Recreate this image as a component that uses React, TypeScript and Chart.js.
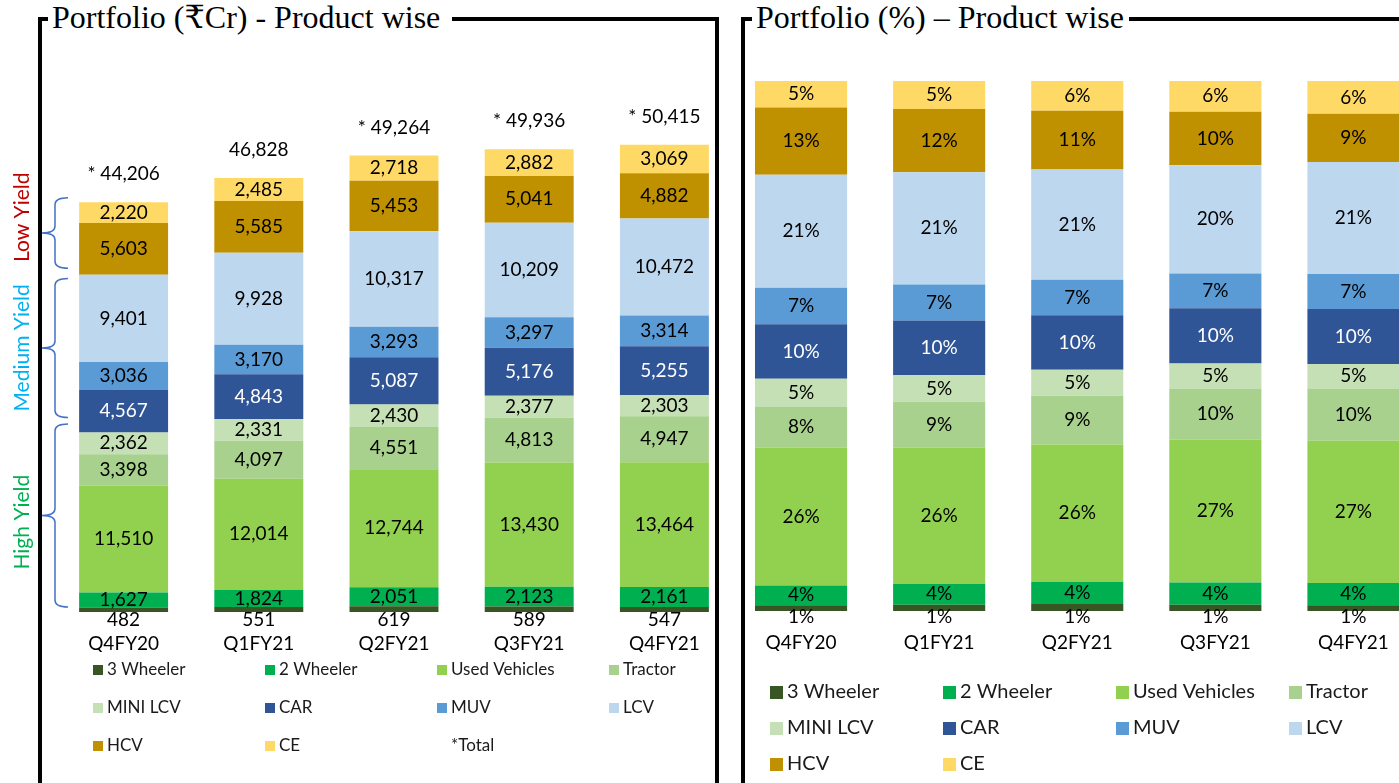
import React, { useEffect, useRef } from "react";
import { Chart, registerables } from "chart.js";

Chart.register(...registerables);

const FONT = "Lato, 'Noto Sans', sans-serif";

// ---------- data ----------
const categories = ["Q4FY20", "Q1FY21", "Q2FY21", "Q3FY21", "Q4FY21"];
const seriesNames = ["3 Wheeler", "2 Wheeler", "Used Vehicles", "Tractor", "MINI LCV", "CAR", "MUV", "LCV", "HCV", "CE"];
const seriesColors = ["#375623", "#00B050", "#92D050", "#A9D18E", "#C5E0B4", "#2F5597", "#5B9BD5", "#BDD7EE", "#BF9000", "#FFD966"];
const labelColors = ["#000", "#000", "#000", "#000", "#000", "#fff", "#000", "#000", "#000", "#000"];

// Portfolio (₹Cr)
const threeWheelerCr = [482, 551, 619, 589, 547];
const twoWheelerCr = [1627, 1824, 2051, 2123, 2161];
const usedVehiclesCr = [11510, 12014, 12744, 13430, 13464];
const tractorCr = [3398, 4097, 4551, 4813, 4947];
const miniLcvCr = [2362, 2331, 2430, 2377, 2303];
const carCr = [4567, 4843, 5087, 5176, 5255];
const muvCr = [3036, 3170, 3293, 3297, 3314];
const lcvCr = [9401, 9928, 10317, 10209, 10472];
const hcvCr = [5603, 5585, 5453, 5041, 4882];
const ceCr = [2220, 2485, 2718, 2882, 3069];
const totalCr = [44206, 46828, 49264, 49936, 50415];
const totalMarks = ["*", "", "*", "*", "*"];

// Portfolio (%)
const threeWheelerPct = [1.1, 1.2, 1.3, 1.2, 1.1];
const twoWheelerPct = [3.7, 3.9, 4.2, 4.2, 4.2];
const usedVehiclesPct = [26.0, 25.7, 25.9, 26.9, 26.8];
const tractorPct = [7.7, 8.7, 9.2, 9.6, 9.9];
const miniLcvPct = [5.3, 5.0, 4.9, 4.8, 4.6];
const carPct = [10.3, 10.3, 10.3, 10.4, 10.4];
const muvPct = [6.9, 6.8, 6.7, 6.6, 6.6];
const lcvPct = [21.3, 21.2, 20.8, 20.4, 21.1];
const hcvPct = [12.7, 11.9, 11.1, 10.1, 9.1];
const cePct = [5.0, 5.3, 5.6, 5.8, 6.2];

// Yield groupings (in ₹Cr on the left axis)
const yieldNames = ["Low Yield", "Medium Yield", "High Yield"];
const yieldFrom = [37100, 21000, 540];
const yieldTo = [44700, 36000, 20300];
const yieldLabelAt = [42600, 28500, 9700];
const yieldColors = ["#C00000", "#00B0F0", "#00B050"];

const crSeries = [threeWheelerCr, twoWheelerCr, usedVehiclesCr, tractorCr, miniLcvCr, carCr, muvCr, lcvCr, hcvCr, ceCr];
const pctSeries = [threeWheelerPct, twoWheelerPct, usedVehiclesPct, tractorPct, miniLcvPct, carPct, muvPct, lcvPct, hcvPct, cePct];

const nf = new Intl.NumberFormat("en-US");

// ---------- plugins ----------
function makeSegmentLabels(o: {
  font: string;
  format: (v: number) => string;
  belowOffset: number;
  totalOffset?: number;
  totalText?: (i: number, v: number) => string;
}) {
  return {
    id: "segmentLabels",
    afterDatasetsDraw(chart: any) {
      const ctx = chart.ctx;
      ctx.save();
      ctx.font = o.font;
      ctx.textAlign = "center";
      ctx.textBaseline = "middle";
      chart.data.datasets.forEach((ds: any, di: number) => {
        const meta = chart.getDatasetMeta(di);
        meta.data.forEach((el: any, i: number) => {
          const v = ds.data[i];
          if (meta.type === "bar") {
            const p = el.getProps(["x", "y", "base"], true);
            const ty = di === 0 ? p.base + o.belowOffset : (p.y + p.base) / 2;
            ctx.fillStyle = ds.labelColor || "#000";
            ctx.fillText(o.format(v), p.x, ty);
          } else if (o.totalText) {
            ctx.fillStyle = "#000";
            ctx.fillText(o.totalText(i, v), el.x, el.y - (o.totalOffset || 28));
          }
        });
      });
      ctx.restore();
    },
  };
}

function makeGridLegend(o: { x0: number; colW: number; y0: number; rowH: number; box: number; gap: number; cols: number; font: string }) {
  return {
    id: "gridLegend",
    afterDraw(chart: any) {
      const ctx = chart.ctx;
      ctx.save();
      ctx.font = o.font;
      ctx.textBaseline = "middle";
      ctx.textAlign = "left";
      chart.data.datasets.forEach((ds: any, i: number) => {
        const col = i % o.cols;
        const row = Math.floor(i / o.cols);
        const x = o.x0 + col * o.colW;
        const y = o.y0 + row * o.rowH;
        if (ds.type !== "line") {
          ctx.fillStyle = ds.backgroundColor;
          ctx.fillRect(x, Math.round(y - o.box / 2), o.box, o.box);
        }
        ctx.fillStyle = "#1a1a1a";
        ctx.fillText(ds.label, x + o.box + o.gap, y);
      });
      ctx.restore();
    },
  };
}

const yieldBraces = {
  id: "yieldBraces",
  afterDraw(chart: any) {
    const ctx = chart.ctx;
    const y = chart.scales.y;
    const left = chart.chartArea.left;
    const xs = left - 1;
    const xh = xs + 13;
    const xt = xs - 13;
    ctx.save();
    yieldNames.forEach((name, k) => {
      const yT = y.getPixelForValue(yieldTo[k]);
      const yB = y.getPixelForValue(yieldFrom[k]);
      const yM = (yT + yB) / 2;
      ctx.strokeStyle = "#4472C4";
      ctx.lineWidth = 1.5;
      ctx.beginPath();
      ctx.moveTo(xh, yT);
      ctx.quadraticCurveTo(xs, yT, xs, yT + 7);
      ctx.lineTo(xs, yM - 7);
      ctx.quadraticCurveTo(xs, yM, xt, yM);
      ctx.quadraticCurveTo(xs, yM, xs, yM + 7);
      ctx.lineTo(xs, yB - 7);
      ctx.quadraticCurveTo(xs, yB, xh, yB);
      ctx.stroke();
      ctx.save();
      ctx.translate(left - 34, y.getPixelForValue(yieldLabelAt[k]));
      ctx.rotate(-Math.PI / 2);
      ctx.font = `21px ${FONT}`;
      ctx.fillStyle = yieldColors[k];
      ctx.textAlign = "center";
      ctx.textBaseline = "middle";
      ctx.fillText(name, 0, 0);
      ctx.restore();
    });
    ctx.restore();
  },
};

// ---------- configs ----------
function barDatasets(series: number[][], barPct: number) {
  return series.map((data, k) => ({
    type: "bar",
    label: seriesNames[k],
    data,
    backgroundColor: seriesColors[k],
    labelColor: labelColors[k],
    stack: "bars",
    barPercentage: barPct,
    categoryPercentage: 1,
    borderWidth: 0,
  }));
}

function xScale() {
  return {
    stacked: true,
    grid: { display: false, drawTicks: false },
    border: { display: false },
    ticks: { color: "#000", font: { family: FONT, size: 19 }, padding: 20, maxRotation: 0, autoSkip: false },
    afterFit: (s: any) => {
      s.height = 40;
    },
  };
}

function buildLeft(): any {
  return {
    type: "bar",
    data: {
      labels: categories,
      datasets: [
        ...barDatasets(crSeries, 0.658),
        {
          type: "line",
          label: "*Total",
          data: totalCr,
          stack: "total",
          showLine: false,
          pointRadius: 0,
          pointHoverRadius: 0,
          borderColor: "transparent",
          backgroundColor: "transparent",
        },
      ],
    },
    options: {
      animation: false,
      responsive: false,
      devicePixelRatio: 1,
      events: [],
      layout: { padding: { left: 56, right: 8, top: 56, bottom: 131 } },
      plugins: { legend: { display: false }, tooltip: { enabled: false } },
      scales: {
        x: xScale(),
        y: { stacked: true, display: false, min: 0, max: 60000 },
      },
    },
    plugins: [
      makeSegmentLabels({
        font: `19px ${FONT}`,
        format: (v) => nf.format(v),
        belowOffset: 8,
        totalOffset: 28,
        totalText: (i, v) => (totalMarks[i] ? totalMarks[i] + " " : "") + nf.format(v),
      }),
      makeGridLegend({ x0: 93, colW: 172, y0: 670, rowH: 38, box: 10, gap: 4, cols: 4, font: `17px ${FONT}` }),
      yieldBraces,
    ],
  };
}

function buildRight(): any {
  return {
    type: "bar",
    data: {
      labels: categories,
      datasets: barDatasets(pctSeries, 0.667),
    },
    options: {
      animation: false,
      responsive: false,
      devicePixelRatio: 1,
      events: [],
      layout: { padding: { left: 12, right: 17.5, top: 81, bottom: 132 } },
      plugins: { legend: { display: false }, tooltip: { enabled: false } },
      scales: {
        x: xScale(),
        y: { stacked: true, display: false, min: 0, max: 100 },
      },
    },
    plugins: [
      makeSegmentLabels({
        font: `19px ${FONT}`,
        format: (v) => Math.round(v) + "%",
        belowOffset: 6,
      }),
      makeGridLegend({ x0: 50, colW: 173, y0: 692, rowH: 36, box: 13, gap: 4, cols: 4, font: `20px ${FONT}` }),
    ],
  };
}

// ---------- components ----------
function ChartCanvas({ left, width, height, build }: { left: number; width: number; height: number; build: () => any }) {
  const ref = useRef<HTMLCanvasElement>(null);
  useEffect(() => {
    let chart: Chart | null = null;
    let cancelled = false;
    const make = () => {
      if (cancelled || !ref.current) return;
      chart = new Chart(ref.current, build());
    };
    const fonts: any = (document as any).fonts;
    if (fonts && fonts.load) {
      Promise.all([fonts.load(`19px Lato`), fonts.load(`17px Lato`)]).then(make, make);
    } else {
      make();
    }
    return () => {
      cancelled = true;
      if (chart) chart.destroy();
    };
  }, []);
  return (
    <canvas
      ref={ref}
      width={width}
      height={height}
      style={{ position: "absolute", left, top: 0, width, height, display: "block" }}
    />
  );
}

const titleStyle: React.CSSProperties = {
  position: "absolute",
  top: 0,
  fontFamily: "'Liberation Serif', 'DejaVu Serif', serif",
  fontSize: 32,
  lineHeight: "34px",
  color: "#000",
  background: "#fff",
  whiteSpace: "nowrap",
};

export default function App() {
  return (
    <div style={{ position: "fixed", left: 0, top: 0, width: 1399, height: 783, overflow: "hidden", background: "#fff" }}>
      <div
        style={{
          position: "absolute",
          left: 38,
          top: 17,
          width: 681,
          height: 820,
          boxSizing: "border-box",
          borderTop: "4px solid #000",
          borderLeft: "4px solid #000",
          borderRight: "4px solid #000",
        }}
      />
      <span style={{ ...titleStyle, left: 48, padding: "0 12px 0 4px" }}>Portfolio (₹Cr) - Product wise</span>
      <div
        style={{
          position: "absolute",
          left: 741,
          top: 17,
          width: 760,
          height: 820,
          boxSizing: "border-box",
          borderTop: "4px solid #000",
          borderLeft: "4px solid #000",
        }}
      />
      <span style={{ ...titleStyle, left: 752, padding: "0 5px 0 4px" }}>Portfolio (%) – Product wise</span>
      <ChartCanvas left={0} width={740} height={783} build={buildLeft} />
      <ChartCanvas left={720} width={720} height={783} build={buildRight} />
    </div>
  );
}
